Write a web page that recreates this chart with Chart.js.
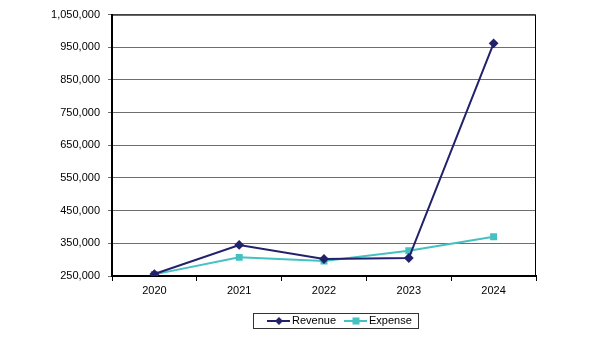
<!DOCTYPE html>
<html lang="en">
<head>
  <meta charset="UTF-8">
  <title>Revenue vs Expense</title>
  <script src="https://cdn.jsdelivr.net/npm/chart.js"></script>
  <style>
    html, body { margin: 0; padding: 0; background: #fff; }
    .wrap { width: 603px; height: 351px; }
  </style>
</head>
<body>
  <div class="wrap"><canvas id="grafico"></canvas></div>
  <script>
    const years = ['2020', '2021', '2022', '2023', '2024'];
    const revenue = [256000, 345000, 302000, 305000, 962000];
    const expense = [255000, 307000, 296000, 327000, 370000];
    const yMin = 250000;
    const yMax = 1050000;
    const yStep = 100000;

    // plot frame + boxed legend like the spreadsheet original
    const extras = {
      id: 'extras',
      afterDraw(chart) {
        const c = chart.ctx;
        const a = chart.chartArea;
        c.save();
        c.strokeStyle = '#000';
        c.lineWidth = 1;
        c.beginPath();
        c.moveTo(a.left, a.top + 0.5);
        c.lineTo(a.right - 0.5, a.top + 0.5);
        c.lineTo(a.right - 0.5, a.bottom);
        c.stroke();

        // legend
        const bx = 253, by = 313, bw = 165, bh = 15;
        c.strokeStyle = '#333';
        c.strokeRect(bx + 0.5, by + 0.5, bw, bh);
        const cy = by + bh / 2 + 0.5;
        const items = [[267, 292], [344, 369]];
        c.font = '11px "Liberation Sans", Arial, sans-serif';
        c.textBaseline = 'middle';
        chart.data.datasets.forEach((ds, i) => {
          const [x0, tx] = items[i];
          c.strokeStyle = ds.borderColor;
          c.lineWidth = 2;
          c.beginPath();
          c.moveTo(x0, cy);
          c.lineTo(x0 + 23, cy);
          c.stroke();
          c.fillStyle = ds.pointBackgroundColor;
          const mx = x0 + 12;
          if (ds.pointStyle === 'rectRot') {
            c.beginPath();
            c.moveTo(mx, cy - 4);
            c.lineTo(mx + 4, cy);
            c.lineTo(mx, cy + 4);
            c.lineTo(mx - 4, cy);
            c.closePath();
            c.fill();
          } else {
            c.fillRect(mx - 3.5, cy - 3.5, 7, 7);
          }
          c.fillStyle = '#000';
          c.fillText(ds.label, tx, cy);
        });
        c.restore();
      }
    };

    new Chart(document.getElementById('grafico'), {
      type: 'line',
      data: {
        labels: years,
        datasets: [{
          label: 'Revenue',
          data: revenue,
          borderColor: '#22216b',
          backgroundColor: '#22216b',
          pointBackgroundColor: '#22216b',
          pointBorderColor: '#22216b',
          pointStyle: 'rectRot',
          pointRadius: 3.5,
          borderWidth: 2,
          tension: 0
        }, {
          label: 'Expense',
          data: expense,
          borderColor: '#45c1c1',
          backgroundColor: '#45c1c1',
          pointBackgroundColor: '#45c1c1',
          pointBorderColor: '#45c1c1',
          pointStyle: 'rect',
          pointRadius: 3.5,
          borderWidth: 2,
          tension: 0
        }]
      },
      options: {
        responsive: true,
        maintainAspectRatio: false,
        animation: false,
        layout: { padding: { left: 0, right: 67, top: 14, bottom: 50 } },
        plugins: {
          legend: { display: false },
          tooltip: { enabled: false }
        },
        scales: {
          x: {
            offset: true,
            grid: { offset: true, drawOnChartArea: false, tickLength: 5, color: '#000' },
            border: { color: '#000', width: 2 },
            ticks: { color: '#000', font: { size: 11, family: '"Liberation Sans", Arial, sans-serif' }, padding: 3 },
            afterFit(s) { s.height = 25; }
          },
          y: {
            min: yMin,
            max: yMax,
            ticks: {
              stepSize: yStep,
              color: '#000',
              padding: 8,
              font: { size: 11, family: '"Liberation Sans", Arial, sans-serif' },
              callback: v => v.toLocaleString('en-US')
            },
            grid: { color: '#6e6e6e', tickLength: 4 },
            border: { color: '#000', width: 2 },
            afterFit(s) { s.width = 112; }
          }
        }
      },
      plugins: [extras]
    });
  </script>
</body>
</html>
